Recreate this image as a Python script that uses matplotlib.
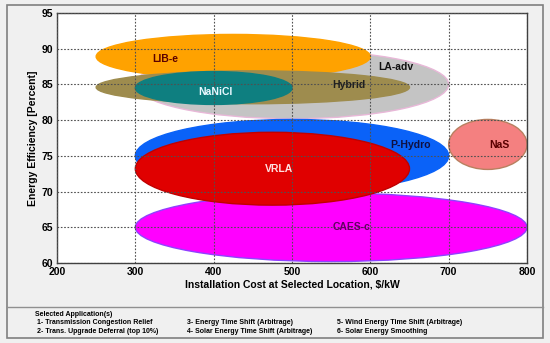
import matplotlib
matplotlib.use("Agg")
import matplotlib.pyplot as plt
from matplotlib.patches import Ellipse, Rectangle
from matplotlib.lines import Line2D

plt.rcParams['font.family'] = ['Liberation Sans', 'DejaVu Sans']
plt.rcParams['font.weight'] = 'bold'

# Technologies: cost range centre/width ($/kW), efficiency centre/height (%)
techs = ["LA-adv", "LIB-e", "Hybrid", "NaNiCl", "P-Hydro", "CAES-c", "VRLA", "NaS"]
cost_center = [500, 425, 450, 400, 500, 550, 475, 750]
cost_width = [400, 350, 400, 200, 400, 500, 350, 100]
eff_center = [85.0, 88.9, 84.6, 84.5, 75.0, 65.0, 73.2, 76.6]
eff_height = [9.6, 6.2, 4.6, 4.6, 10.2, 9.6, 10.2, 7.0]
fill_colors = ["#C4C4C4", "#FFA200", "#9E8C4E", "#0E7F80", "#0A62F8", "#FF00FF", "#E00000", "#F48080"]
edge_colors = ["#E8B8D8", "#FFA200", "#9E8C4E", "#0E7F80", "#0A62F8", "#9040FF", "#C00000", "#B88060"]
label_x = [633, 338, 573, 402, 651, 576, 483, 765]
label_y = [87.5, 88.5, 84.9, 83.9, 76.5, 65.0, 73.2, 76.5]
label_colors = ["#101010", "#5A0000", "#202020", "#E8F8FF", "#101040", "#600060", "#FFE0E0", "#5A0000"]

x_ticks = [200, 300, 400, 500, 600, 700, 800]
y_ticks = [60, 65, 70, 75, 80, 85, 90, 95]

apps_col1 = ["1- Transmission Congestion Relief", "2- Trans. Upgrade Deferral (top 10%)"]
apps_col2 = ["3- Energy Time Shift (Arbitrage)", "4- Solar Energy Time Shift (Arbitrage)"]
apps_col3 = ["5- Wind Energy Time Shift (Arbitrage)", "6- Solar Energy Smoothing"]

W, H = 550, 343
fig = plt.figure(figsize=(5.5, 3.43), dpi=100)
fig.patch.set_facecolor("#F0F0F0")

# outer frame and divider
fig.add_artist(Rectangle((7 / W, 1 - 338 / H), (543 - 7) / W, (338 - 5) / H,
                         transform=fig.transFigure, fill=False, ec="#808080", lw=1.2))
fig.add_artist(Line2D([7 / W, 543 / W], [1 - 307 / H, 1 - 307 / H],
                      transform=fig.transFigure, color="#909090", lw=1.0))

ax = fig.add_axes([57 / W, 1 - 263 / H, (527 - 57) / W, (263 - 13) / H])
ax.set_facecolor("white")
ax.set_xlim(200, 800)
ax.set_ylim(60, 95)

for i in range(len(techs)):
    e = Ellipse((cost_center[i], eff_center[i]), cost_width[i], eff_height[i],
                facecolor=fill_colors[i], edgecolor=edge_colors[i], lw=1.0, zorder=1 + i * 0.01)
    ax.add_patch(e)
    ax.text(label_x[i], label_y[i], techs[i], color=label_colors[i], fontsize=7.5,
            fontweight='bold', ha='center', va='center', zorder=3)

ax.set_xticks(x_ticks)
ax.set_yticks(y_ticks)
ax.tick_params(length=0, labelsize=7.5, pad=3, colors="#000000")
for lab in ax.get_xticklabels() + ax.get_yticklabels():
    lab.set_fontweight('bold')
ax.set_axisbelow(False)
ax.grid(True, linestyle=(0, (1.5, 1.5)), color="#505050", lw=0.8)
for s in ax.spines.values():
    s.set_color("#404040")
    s.set_linewidth(1.0)

ax.set_xlabel("Installation Cost at Selected Location, $/kW", fontsize=7.5, fontweight='bold', labelpad=2)
ax.set_ylabel("Energy Efficiency [Percent]", fontsize=7.5, fontweight='bold', labelpad=2)

fs = 5
fig.text(35 / W, 1 - 315 / H, "Selected Application(s)", fontsize=fs, fontweight='bold', va='center')
cols = [(37, apps_col1), (187, apps_col2), (337, apps_col3)]
for x, col in cols:
    for j, t in enumerate(col):
        fig.text(x / W, 1 - (323 + 8.3 * j) / H, t, fontsize=fs, fontweight='bold', va='center')

fig.savefig("out.png", dpi=100, facecolor=fig.get_facecolor())
